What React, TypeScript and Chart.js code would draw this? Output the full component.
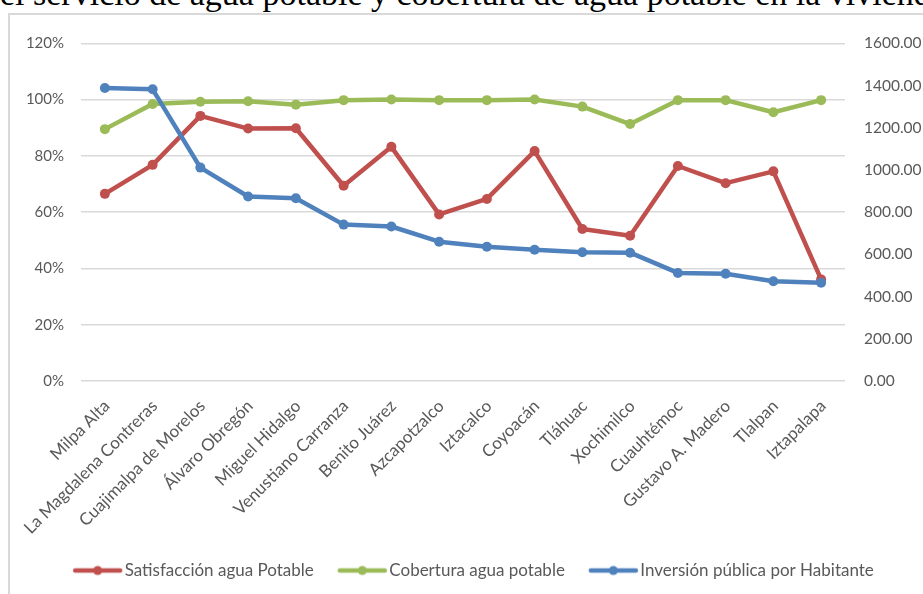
import { useEffect, useRef } from "react";
import { Chart, registerables } from "chart.js";

Chart.register(...registerables);

const titleText = "el servicio de agua potable y cobertura de agua potable en la vivienda";

const categories = [
  "Milpa Alta",
  "La Magdalena Contreras",
  "Cuajimalpa de Morelos",
  "Álvaro Obregón",
  "Miguel Hidalgo",
  "Venustiano Carranza",
  "Benito Juárez",
  "Azcapotzalco",
  "Iztacalco",
  "Coyoacán",
  "Tláhuac",
  "Xochimilco",
  "Cuauhtémoc",
  "Gustavo A. Madero",
  "Tlalpan",
  "Iztapalapa",
];

const satisfaccion = [66.5, 76.8, 94.2, 89.7, 89.8, 69.4, 83.2, 59.2, 64.7, 81.7, 54.0, 51.6, 76.4, 70.3, 74.5, 36.1];
const cobertura = [89.5, 98.4, 99.2, 99.4, 98.2, 99.8, 100, 99.8, 99.8, 100, 97.5, 91.3, 99.8, 99.8, 95.5, 99.8];
const inversion = [1388, 1382, 1011, 874, 866, 741, 732, 660, 636, 622, 610, 608, 512, 508, 473, 466];

const seriesNames = ["Satisfacción agua Potable", "Cobertura agua potable", "Inversión pública por Habitante"];
const seriesColors = ["#C0504D", "#9BBB59", "#4F81BD"];

const leftMin = 0;
const leftMax = 120;
const leftStep = 20;
const rightMin = 0;
const rightMax = 1600;
const rightStep = 200;

const textColor = "#595959";
const gridColor = "#d9d9d9";

function makeLegendIcon(color: string): HTMLCanvasElement {
  const c = document.createElement("canvas");
  c.width = 67;
  c.height = 12;
  const ctx = c.getContext("2d")!;
  ctx.strokeStyle = color;
  ctx.lineWidth = 4.5;
  ctx.lineCap = "round";
  ctx.beginPath();
  ctx.moveTo(16, 6);
  ctx.lineTo(61, 6);
  ctx.stroke();
  ctx.fillStyle = color;
  ctx.beginPath();
  ctx.arc(38.5, 6, 4.5, 0, Math.PI * 2);
  ctx.fill();
  return c;
}

export default function App() {
  const ref = useRef<HTMLCanvasElement>(null);

  useEffect(() => {
    let chart: Chart | null = null;
    let cancelled = false;
    const build = () => {
      if (cancelled || !ref.current) return;
      const icons = seriesColors.map(makeLegendIcon);
      Chart.defaults.font.family = "Lato";
      chart = new Chart(ref.current, {
        type: "line",
        data: {
          labels: categories,
          datasets: [
            {
              label: seriesNames[0],
              data: satisfaccion,
              yAxisID: "y",
              borderColor: seriesColors[0],
              backgroundColor: seriesColors[0],
              order: 2,
            },
            {
              label: seriesNames[1],
              data: cobertura,
              yAxisID: "y",
              borderColor: seriesColors[1],
              backgroundColor: seriesColors[1],
              order: 1,
            },
            {
              label: seriesNames[2],
              data: inversion,
              yAxisID: "y1",
              borderColor: seriesColors[2],
              backgroundColor: seriesColors[2],
              order: 0,
            },
          ],
        },
        options: {
          responsive: false,
          animation: false,
          events: [],
          elements: {
            line: { borderWidth: 4.5, tension: 0, borderCapStyle: "round", borderJoinStyle: "round" },
            point: { radius: 5, borderWidth: 0, hoverRadius: 5 },
          },
          layout: { padding: { left: 10, right: 0, top: 24, bottom: 5 } },
          scales: {
            x: {
              type: "category",
              offset: true,
              grid: { display: false, drawTicks: false },
              border: { display: false },
              ticks: {
                autoSkip: false,
                minRotation: 45,
                maxRotation: 45,
                color: textColor,
                font: { size: 17 },
                padding: 15,
                labelOffset: 2,
              },
              afterFit: (s: any) => {
                s.height = 161;
              },
            },
            y: {
              position: "left",
              min: leftMin,
              max: leftMax,
              ticks: {
                stepSize: leftStep,
                callback: (v: any) => `${v}%`,
                color: textColor,
                font: { size: 15 },
                padding: 17,
              },
              grid: { color: gridColor, lineWidth: 1.5, drawTicks: false },
              border: { display: false },
              afterFit: (s: any) => {
                s.width = 61;
              },
            },
            y1: {
              position: "right",
              min: rightMin,
              max: rightMax,
              ticks: {
                stepSize: rightStep,
                callback: (v: any) => Number(v).toFixed(2),
                color: textColor,
                font: { size: 15.5 },
                padding: 19,
              },
              grid: { display: false, drawTicks: false },
              border: { display: false },
              afterFit: (s: any) => {
                s.width = 78;
              },
            },
          },
          plugins: {
            title: { display: false },
            tooltip: { enabled: false },
            legend: {
              position: "bottom",
              labels: {
                usePointStyle: true,
                pointStyleWidth: 47,
                padding: 20,
                color: textColor,
                font: { size: 17 },
                sort: (a: any, b: any) => a.datasetIndex - b.datasetIndex,
                generateLabels: (c: any) =>
                  Chart.defaults.plugins.legend.labels
                    .generateLabels(c)
                    .map((l: any) => ({ ...l, pointStyle: icons[l.datasetIndex] })),
              },
            },
          },
        },
      });
    };
    const fonts = (document as any).fonts;
    if (fonts && fonts.load) {
      Promise.all([fonts.load("15px Lato"), fonts.load('34px "Liberation Serif"')]).then(build, build);
    } else {
      build();
    }
    return () => {
      cancelled = true;
      if (chart) chart.destroy();
    };
  }, []);

  return (
    <div
      style={{
        position: "fixed",
        left: 0,
        top: 0,
        width: 923,
        height: 594,
        overflow: "hidden",
        background: "#ffffff",
      }}
    >
      <div
        style={{
          position: "absolute",
          left: 0,
          top: -23,
          whiteSpace: "nowrap",
          fontFamily: '"Liberation Serif", serif',
          fontSize: 34,
          lineHeight: "34px",
          color: "#000000",
        }}
      >
        {titleText}
      </div>
      <div
        style={{
          position: "absolute",
          left: 8,
          top: 13,
          width: 960,
          height: 640,
          border: `2px solid ${gridColor}`,
          boxSizing: "border-box",
        }}
      />
      <canvas
        ref={ref}
        width={913}
        height={579}
        style={{ position: "absolute", left: 10, top: 15, width: 913, height: 579 }}
      />
    </div>
  );
}
